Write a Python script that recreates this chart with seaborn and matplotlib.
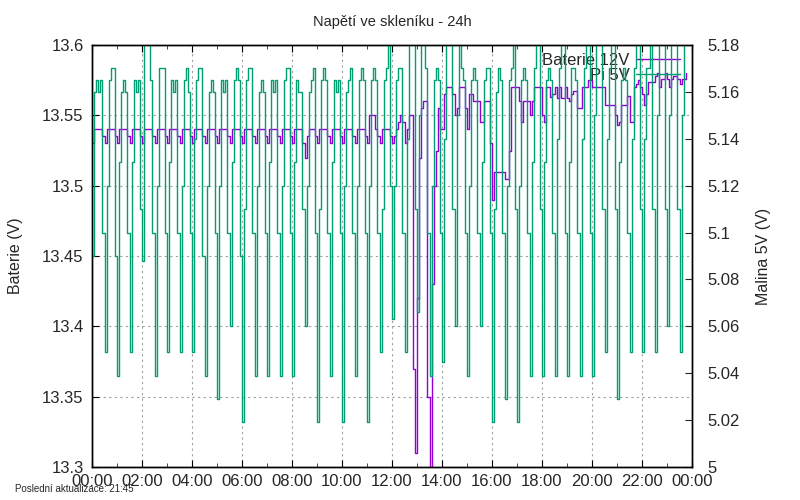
import numpy as np
import pandas as pd
import matplotlib
matplotlib.use('Agg')
import matplotlib.pyplot as plt
import seaborn as sns

# 5 min samples, 00:00 .. 23:45, one row per hour
baterie = [
    13.53, 13.54, 13.54, 13.54, 13.54, 13.535, 13.53, 13.54, 13.54, 13.54, 13.54, 13.535,
    13.53, 13.54, 13.54, 13.54, 13.54, 13.535, 13.53, 13.54, 13.54, 13.54, 13.54, 13.535,
    13.53, 13.54, 13.54, 13.54, 13.54, 13.535, 13.53, 13.54, 13.54, 13.54, 13.54, 13.535,
    13.53, 13.54, 13.54, 13.54, 13.54, 13.535, 13.53, 13.54, 13.54, 13.54, 13.54, 13.535,
    13.53, 13.54, 13.54, 13.54, 13.54, 13.535, 13.53, 13.54, 13.54, 13.54, 13.54, 13.535,
    13.53, 13.54, 13.54, 13.54, 13.54, 13.535, 13.53, 13.54, 13.54, 13.54, 13.54, 13.535,
    13.53, 13.54, 13.54, 13.54, 13.54, 13.535, 13.53, 13.54, 13.54, 13.54, 13.54, 13.535,
    13.53, 13.54, 13.54, 13.54, 13.54, 13.535, 13.53, 13.54, 13.54, 13.54, 13.54, 13.535,
    13.53, 13.54, 13.54, 13.54, 13.54, 13.53, 13.52, 13.535, 13.54, 13.54, 13.54, 13.535,
    13.53, 13.54, 13.54, 13.54, 13.54, 13.535, 13.53, 13.54, 13.54, 13.54, 13.54, 13.535,
    13.53, 13.54, 13.54, 13.54, 13.54, 13.535, 13.53, 13.54, 13.54, 13.54, 13.54, 13.535,
    13.53, 13.55, 13.55, 13.55, 13.54, 13.535, 13.53, 13.54, 13.54, 13.54, 13.54, 13.535,
    13.53, 13.535, 13.54, 13.545, 13.55, 13.545, 13.53, 13.54, 13.55, 13.55, 13.37, 13.31,
    13.42, 13.52, 13.555, 13.56, 13.56, 13.35, 13.29, 13.43, 13.50, 13.525, 13.555, 13.54,
    13.54, 13.565, 13.57, 13.57, 13.57, 13.565, 13.55, 13.555, 13.57, 13.57, 13.57, 13.555,
    13.54, 13.565, 13.565, 13.56, 13.56, 13.56, 13.545, 13.545, 13.56, 13.56, 13.56, 13.53,
    13.49, 13.51, 13.51, 13.51, 13.51, 13.51, 13.505, 13.505, 13.525, 13.57, 13.57, 13.57,
    13.57, 13.56, 13.545, 13.56, 13.56, 13.56, 13.55, 13.56, 13.57, 13.57, 13.57, 13.57,
    13.55, 13.545, 13.57, 13.57, 13.563, 13.565, 13.57, 13.562, 13.57, 13.562, 13.562, 13.57,
    13.562, 13.56, 13.565, 13.567, 13.567, 13.555, 13.555, 13.57, 13.57, 13.57, 13.575, 13.575,
    13.57, 13.57, 13.57, 13.57, 13.57, 13.57, 13.557, 13.557, 13.557, 13.557, 13.557, 13.55,
    13.543, 13.545, 13.557, 13.557, 13.557, 13.564, 13.545, 13.545, 13.57, 13.572, 13.575, 13.57,
    13.565, 13.557, 13.565, 13.574, 13.574, 13.574, 13.578, 13.58, 13.57, 13.576, 13.576, 13.58,
    13.576, 13.57, 13.576, 13.578, 13.578, 13.576, 13.572, 13.576, 13.576, 13.58,
]

pi_5v = [
    5.09, 5.16, 5.165, 5.16, 5.165, 5.10, 5.049, 5.12, 5.165, 5.17, 5.17, 5.09,
    5.039, 5.13, 5.16, 5.165, 5.16, 5.10, 5.049, 5.13, 5.165, 5.16, 5.165, 5.11,
    5.088, 5.185, 5.185, 5.185, 5.165, 5.10, 5.039, 5.12, 5.17, 5.17, 5.17, 5.10,
    5.049, 5.13, 5.165, 5.16, 5.165, 5.10, 5.049, 5.12, 5.165, 5.17, 5.16, 5.10,
    5.049, 5.14, 5.165, 5.17, 5.17, 5.09, 5.039, 5.12, 5.16, 5.165, 5.16, 5.10,
    5.029, 5.12, 5.165, 5.16, 5.165, 5.10, 5.06, 5.13, 5.165, 5.17, 5.165, 5.09,
    5.019, 5.11, 5.165, 5.17, 5.17, 5.10, 5.039, 5.12, 5.16, 5.165, 5.16, 5.10,
    5.039, 5.13, 5.165, 5.16, 5.165, 5.10, 5.039, 5.12, 5.165, 5.17, 5.17, 5.10,
    5.039, 5.13, 5.165, 5.16, 5.16, 5.11, 5.06, 5.12, 5.16, 5.165, 5.17, 5.10,
    5.019, 5.11, 5.165, 5.17, 5.165, 5.10, 5.039, 5.13, 5.165, 5.16, 5.165, 5.10,
    5.019, 5.12, 5.16, 5.165, 5.17, 5.10, 5.039, 5.12, 5.165, 5.17, 5.165, 5.10,
    5.019, 5.12, 5.165, 5.17, 5.165, 5.10, 5.049, 5.11, 5.165, 5.17, 5.185, 5.12,
    5.063, 5.12, 5.165, 5.17, 5.17, 5.10, 5.049, 5.14, 5.185, 5.185, 5.185, 5.11,
    5.066, 5.15, 5.185, 5.185, 5.17, 5.10, 5.039, 5.12, 5.165, 5.17, 5.165, 5.10,
    5.045, 5.14, 5.185, 5.185, 5.185, 5.11, 5.06, 5.15, 5.185, 5.17, 5.165, 5.10,
    5.039, 5.12, 5.165, 5.17, 5.165, 5.10, 5.06, 5.13, 5.165, 5.17, 5.17, 5.10,
    5.019, 5.11, 5.16, 5.17, 5.165, 5.10, 5.029, 5.12, 5.165, 5.17, 5.185, 5.11,
    5.019, 5.12, 5.165, 5.17, 5.165, 5.10, 5.039, 5.13, 5.17, 5.185, 5.185, 5.11,
    5.039, 5.13, 5.165, 5.17, 5.165, 5.10, 5.039, 5.14, 5.17, 5.185, 5.185, 5.10,
    5.039, 5.13, 5.17, 5.17, 5.165, 5.10, 5.039, 5.14, 5.17, 5.185, 5.185, 5.10,
    5.039, 5.15, 5.185, 5.185, 5.185, 5.11, 5.049, 5.14, 5.17, 5.185, 5.185, 5.11,
    5.029, 5.13, 5.165, 5.17, 5.165, 5.10, 5.049, 5.14, 5.17, 5.185, 5.185, 5.11,
    5.049, 5.14, 5.17, 5.17, 5.185, 5.11, 5.049, 5.15, 5.185, 5.185, 5.185, 5.11,
    5.06, 5.15, 5.185, 5.185, 5.185, 5.11, 5.049, 5.15, 5.185, 5.185,
]

hour_ticks = list(range(0, 25, 2))
hour_labels = ['00:00', '02:00', '04:00', '06:00', '08:00', '10:00', '12:00',
               '14:00', '16:00', '18:00', '20:00', '22:00', '00:00']
bat_ticks = [13.3, 13.35, 13.4, 13.45, 13.5, 13.55, 13.6]
bat_labels = ['13.3', '13.35', '13.4', '13.45', '13.5', '13.55', '13.6']
pi_ticks = [5.0, 5.02, 5.04, 5.06, 5.08, 5.1, 5.12, 5.14, 5.16, 5.18]
pi_labels = ['5', '5.02', '5.04', '5.06', '5.08', '5.1', '5.12', '5.14', '5.16', '5.18']

hours = np.arange(len(baterie)) * 5 / 60
df = pd.DataFrame({'cas': hours, 'baterie': baterie, 'pi': pi_5v})

sns.set_style('ticks')
plt.rcParams['font.family'] = ['Liberation Sans', 'DejaVu Sans']

fig, ax = plt.subplots(figsize=(8, 5), dpi=100)
fig.subplots_adjust(left=0.115, right=0.865, bottom=0.066, top=0.91)
ax2 = ax.twinx()

sns.lineplot(data=df, x='cas', y='baterie', ax=ax, color='#9400d3', lw=1.0,
             drawstyle='steps-post', label='Baterie 12V', legend=False)
sns.lineplot(data=df, x='cas', y='pi', ax=ax2, color='#009e73', lw=1.0,
             drawstyle='steps-post', label='Pi 5V', legend=False)

ax.set_xlim(0, 24)
ax.set_ylim(13.3, 13.6)
ax2.set_ylim(5.0, 5.18)

ax.set_xticks(hour_ticks, hour_labels)
ax.set_xticks(range(25), minor=True)
ax.set_yticks(bat_ticks, bat_labels)
ax2.set_yticks(pi_ticks, pi_labels)

ax.tick_params(axis='both', which='major', direction='in', length=5, labelsize=12,
               top=True, right=False, color='black')
ax.tick_params(axis='x', which='major', pad=5)
ax.tick_params(axis='y', which='major', pad=6)
ax.tick_params(axis='x', which='minor', direction='in', length=3, top=True)
ax2.tick_params(axis='y', direction='in', length=5, labelsize=12, pad=11)

ax.grid(True, which='major', color='#a0a0a0', ls=(0, (2, 3)), lw=0.8)
ax2.grid(False)

for a in (ax, ax2):
    for sp in a.spines.values():
        sp.set_color('black')
        sp.set_linewidth(1.0)

ax.set_xlabel('')
ax.set_ylabel('Baterie (V)', fontsize=11.5, labelpad=14)
ax2.set_ylabel('Malina 5V (V)', fontsize=11.5, labelpad=12)
ax.set_title('Napětí ve skleníku - 24h', fontsize=10.5, pad=14)

handles = [ax.lines[0], ax2.lines[0]]
leg = ax.legend(handles, ['Baterie 12V', 'Pi 5V'], loc='upper right',
                bbox_to_anchor=(0.985, 0.99), markerfirst=False, frameon=False,
                fontsize=12, handlelength=2.6, handletextpad=0.4,
                labelspacing=0.0, borderpad=0.2, borderaxespad=0.0)

fig.text(0.019, 0.022, 'Poslední aktualizace: 21:45', fontsize=7, va='center')

fig.savefig('out.png', dpi=100)
